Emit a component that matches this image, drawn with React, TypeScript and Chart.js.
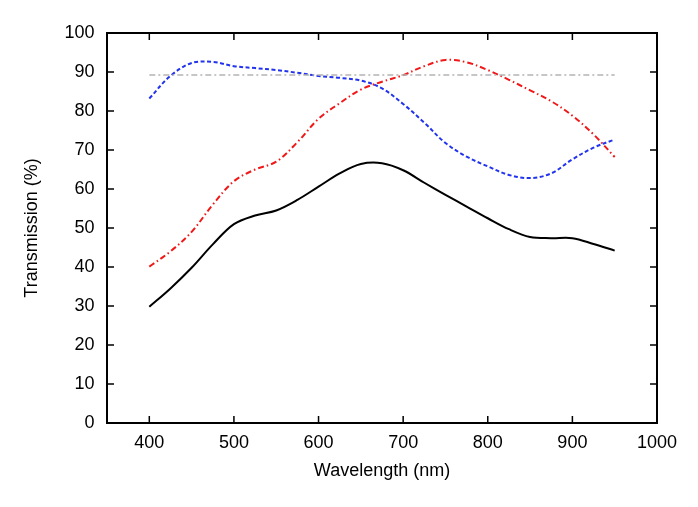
import { Chart, registerables, type Plugin } from 'chart.js';
import { useEffect, useRef } from 'react';

Chart.register(...registerables);

const wavelengths = [
  400, 425, 450, 475, 500, 525, 550, 575, 600, 625, 650, 675, 700, 725, 750, 775, 800, 825, 850, 875,
  900, 925, 950,
];
const solidSeries = [
  29.8, 34.5, 39.8, 45.8, 51.0, 53.2, 54.5, 57.2, 60.6, 64.0, 66.4, 66.6, 64.8, 61.6, 58.5, 55.5,
  52.5, 49.7, 47.7, 47.4, 47.4, 45.9, 44.2,
];
const redSeries = [
  40.1, 44.0, 49.0, 56.0, 62.0, 65.0, 67.0, 72.0, 78.0, 82.0, 85.5, 87.5, 89.2, 91.5, 93.1, 92.5,
  90.5, 88.0, 85.3, 82.5, 78.8, 74.0, 68.2,
];
const blueSeries = [
  83.2, 89.0, 92.3, 92.6, 91.5, 91.0, 90.5, 89.8, 89.0, 88.5, 87.8, 85.8, 81.8, 77.0, 71.8, 68.3,
  65.8, 63.6, 62.8, 64.0, 67.6, 70.6, 72.7,
];
const grayLevel = 89.2;
const xTicks = [400, 500, 600, 700, 800, 900, 1000];
const yTicks = [0, 10, 20, 30, 40, 50, 60, 70, 80, 90, 100];

const frameTicks: Plugin = {
  id: 'frameTicks',
  afterDraw(chart) {
    const { ctx, chartArea, scales } = chart;
    const { left, right, top, bottom } = chartArea;
    const len = 7;
    ctx.save();
    ctx.strokeStyle = '#000';
    ctx.lineWidth = 1.5;
    ctx.beginPath();
    xTicks.forEach((v) => {
      const x = scales.x.getPixelForValue(v);
      ctx.moveTo(x, bottom);
      ctx.lineTo(x, bottom - len);
      ctx.moveTo(x, top);
      ctx.lineTo(x, top + len);
    });
    yTicks.forEach((v) => {
      const y = scales.y.getPixelForValue(v);
      ctx.moveTo(left, y);
      ctx.lineTo(left + len, y);
      ctx.moveTo(right, y);
      ctx.lineTo(right - len, y);
    });
    ctx.stroke();
    ctx.lineWidth = 2;
    ctx.strokeRect(left, top, right - left, bottom - top);
    ctx.restore();
  },
};

export default function App() {
  const canvasRef = useRef<HTMLCanvasElement>(null);
  const chartRef = useRef<Chart | null>(null);

  useEffect(() => {
    if (!canvasRef.current) return;
    const font = { family: '"Liberation Sans", Arial, sans-serif', size: 18 };
    const pts = (vals: number[]) => wavelengths.map((x, i) => ({ x, y: vals[i] }));

    chartRef.current = new Chart(canvasRef.current, {
      type: 'line',
      data: {
        datasets: [
          {
            data: wavelengths.map((x) => ({ x, y: grayLevel })),
            borderColor: '#b4b4b4',
            borderWidth: 1.5,
            borderDash: [6, 3, 2, 3],
            pointRadius: 0,
          },
          {
            data: pts(redSeries),
            borderColor: '#f01818',
            borderWidth: 2,
            borderDash: [6, 3, 1.5, 3],
            pointRadius: 0,
            tension: 0.35,
          },
          {
            data: pts(blueSeries),
            borderColor: '#2233ee',
            borderWidth: 2,
            borderDash: [4, 2.5],
            pointRadius: 0,
            tension: 0.35,
          },
          {
            data: pts(solidSeries),
            borderColor: '#000',
            borderWidth: 2,
            pointRadius: 0,
            tension: 0.35,
          },
        ],
      },
      options: {
        animation: false,
        responsive: false,
        layout: { padding: { top: 33, right: 41, left: 0, bottom: 0 } },
        plugins: { legend: { display: false }, tooltip: { enabled: false } },
        scales: {
          x: {
            type: 'linear',
            min: 350,
            max: 1000,
            afterBuildTicks: (s) => {
              s.ticks = xTicks.map((value) => ({ value }));
            },
            afterFit: (s) => {
              s.height = 84;
            },
            grid: { display: false, drawTicks: false },
            border: { display: false },
            ticks: { color: '#000', font, padding: 9, maxRotation: 0, callback: (v) => String(v) },
            title: {
              display: true,
              text: 'Wavelength (nm)',
              color: '#000',
              font,
              padding: { top: 6, bottom: 25 },
            },
          },
          y: {
            min: 0,
            max: 100,
            afterBuildTicks: (s) => {
              s.ticks = yTicks.map((value) => ({ value }));
            },
            afterFit: (s) => {
              s.width = 107;
            },
            grid: { display: false, drawTicks: false },
            border: { display: false },
            ticks: { color: '#000', font, padding: 12.5, callback: (v) => String(v) },
            title: {
              display: true,
              text: 'Transmission (%)',
              color: '#000',
              font,
              padding: { top: 21, bottom: 0 },
            },
          },
        },
      },
      plugins: [frameTicks],
    });

    return () => {
      chartRef.current?.destroy();
    };
  }, []);

  return (
    <div style={{ position: 'absolute', left: 0, top: 0, width: 698, height: 507, background: '#fff' }}>
      <canvas ref={canvasRef} width={698} height={507} />
    </div>
  );
}
